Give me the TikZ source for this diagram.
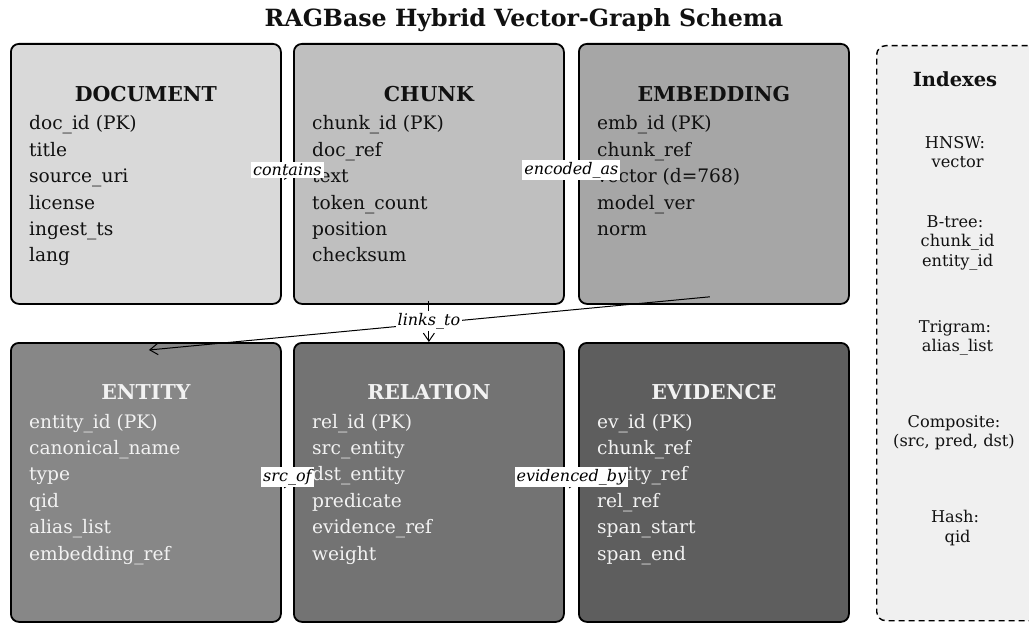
\documentclass[tikz,border=0pt]{standalone}
\usepackage{fontspec}
\setmainfont{DejaVu Serif}
\usetikzlibrary{arrows.meta,backgrounds,calc}
\definecolor{cDoc}{HTML}{D9D9D9}
\definecolor{cChk}{HTML}{BFBFBF}
\definecolor{cEmb}{HTML}{A6A6A6}
\definecolor{cEnt}{HTML}{878787}
\definecolor{cRel}{HTML}{737373}
\definecolor{cEvi}{HTML}{5E5E5E}
\definecolor{cIdx}{HTML}{F0F0F0}
\definecolor{darkTxt}{HTML}{111111}
\definecolor{lightTxt}{HTML}{F2F2F2}
\begin{document}
\begin{tikzpicture}[x=1pt,y=-1pt,
  tbl/.style={draw=black, line width=1.8pt, rounded corners=8pt, anchor=north west,
    minimum width=270pt, inner sep=0pt},
  hdr/.style={anchor=base, font=\fontsize{20.5}{24}\selectfont\bfseries, inner sep=0pt},
  fld/.style={anchor=base west, font=\fontsize{18.6}{22}\selectfont, inner sep=0pt},
  rel/.style={fill=white, inner sep=2pt, font=\fontsize{16}{19}\selectfont\itshape},
  link/.style={line width=1pt, -{Straight Barb[length=8pt,width=11pt]}},
  idx/.style={align=center, font=\fontsize{16.2}{19.3}\selectfont, inner sep=0pt, text=darkTxt}
]
\useasboundingbox (0,0) rectangle (1029,623);

\node[font=\fontsize{23.7}{28}\selectfont\bfseries, text=darkTxt] (title) at (524,20) {RAGBase Hybrid Vector-Graph Schema};

% top row
\node[tbl, fill=cDoc, minimum height=260pt] (DOC) at (10,43) {};
\node[tbl, fill=cChk, minimum height=260pt] (CHK) at (293,43) {};
\node[tbl, fill=cEmb, minimum height=260pt] (EMB) at (578,43) {};
% bottom row
\node[tbl, fill=cEnt, minimum height=279pt] (ENT) at (10,342) {};
\node[tbl, fill=cRel, minimum height=279pt] (REL) at (293,342) {};
\node[tbl, fill=cEvi, minimum height=279pt] (EVI) at (578,342) {};

% indexes panel
\node[draw=black, line width=1.4pt, dash pattern=on 6pt off 4pt, rounded corners=9pt,
  fill=cIdx, anchor=north west, minimum width=190pt, minimum height=575pt, inner sep=0pt]
  (IDX) at (876,45) {};

% hidden connectors (behind the tables)
\begin{pgfonlayer}{background}
\draw[link] (DOC) -- (CHK);
\draw[link] (CHK) -- (EMB);
\draw[link] (ENT) -- (REL);
\draw[link] (REL) -- (EVI);
\end{pgfonlayer}

% headers
\node[hdr, text=darkTxt] (DOC-h) at ($(DOC.north)+(0,59)$) {DOCUMENT};
\node[hdr, text=darkTxt] (CHK-h) at ($(CHK.north)+(0,59)$) {CHUNK};
\node[hdr, text=darkTxt] (EMB-h) at ($(EMB.north)+(0,59)$) {EMBEDDING};
\node[hdr, text=lightTxt] (ENT-h) at ($(ENT.north)+(0,57)$) {ENTITY};
\node[hdr, text=lightTxt] (REL-h) at ($(REL.north)+(0,57)$) {RELATION};
\node[hdr, text=lightTxt] (EVI-h) at ($(EVI.north)+(0,57)$) {EVIDENCE};

% fields
\foreach \t [count=\i] in {doc\_id (PK), title, source\_uri, license, ingest\_ts, lang}
  \node[fld, text=darkTxt] (DOC-f\i) at ($(DOC.north west)+(19,{87+26.4*(\i-1)})$) {\t};
\foreach \t [count=\i] in {chunk\_id (PK), doc\_ref, text, token\_count, position, checksum}
  \node[fld, text=darkTxt] (CHK-f\i) at ($(CHK.north west)+(19,{87+26.4*(\i-1)})$) {\t};
\foreach \t [count=\i] in {emb\_id (PK), chunk\_ref, vector (d=768), model\_ver, norm}
  \node[fld, text=darkTxt] (EMB-f\i) at ($(EMB.north west)+(19,{87+26.4*(\i-1)})$) {\t};
\foreach \t [count=\i] in {entity\_id (PK), canonical\_name, type, qid, alias\_list, embedding\_ref}
  \node[fld, text=lightTxt] (ENT-f\i) at ($(ENT.north west)+(19,{86+26.4*(\i-1)})$) {\t};
\foreach \t [count=\i] in {rel\_id (PK), src\_entity, dst\_entity, predicate, evidence\_ref, weight}
  \node[fld, text=lightTxt] (REL-f\i) at ($(REL.north west)+(19,{86+26.4*(\i-1)})$) {\t};
\foreach \t [count=\i] in {ev\_id (PK), chunk\_ref, entity\_ref, rel\_ref, span\_start, span\_end}
  \node[fld, text=lightTxt] (EVI-f\i) at ($(EVI.north west)+(19,{86+26.4*(\i-1)})$) {\t};

% visible connectors
\draw[link] ($(EMB.south)+(-4,-8)$) -- ($(ENT.north)+(3,8)$);
\draw[link] ($(CHK.south)+(0,-4)$) -- (REL.north);

% connector labels
\node[rel] (l-contains) at ($(DOC.east)!0.5!(CHK.west)+(0,-4)$) {contains};
\node[rel] (l-encoded) at ($(CHK.east)!0.5!(EMB.west)+(0,-4)$) {encoded\_as};
\node[rel] (l-links) at ($(CHK.south)!0.5!(REL.north)+(0,-2)$) {links\_to};
\node[rel] (l-src) at ($(ENT.east)!0.5!(REL.west)+(0,-5)$) {src\_of};
\node[rel] (l-evid) at ($(REL.east)!0.5!(EVI.west)+(0,-5)$) {evidenced\_by};

% index texts
\node[font=\fontsize{19.5}{23}\selectfont\bfseries, text=darkTxt] (IDX-h) at (955,79) {Indexes};
\node[idx] (IDX-1) at (955,152) {HNSW:\\\hspace*{0.32em}vector};
\node[idx] (IDX-2) at (955,243) {B-tree:\\\hspace*{0.32em}chunk\_id\\\hspace*{0.32em}entity\_id};
\node[idx] (IDX-3) at (955,338) {Trigram:\\\hspace*{0.32em}alias\_list};
\node[idx] (IDX-4) at (954,433) {Composite:\\(src, pred, dst)};
\node[idx] (IDX-5) at (955,528) {Hash:\\\hspace*{0.32em}qid};
\end{tikzpicture}
\end{document}
